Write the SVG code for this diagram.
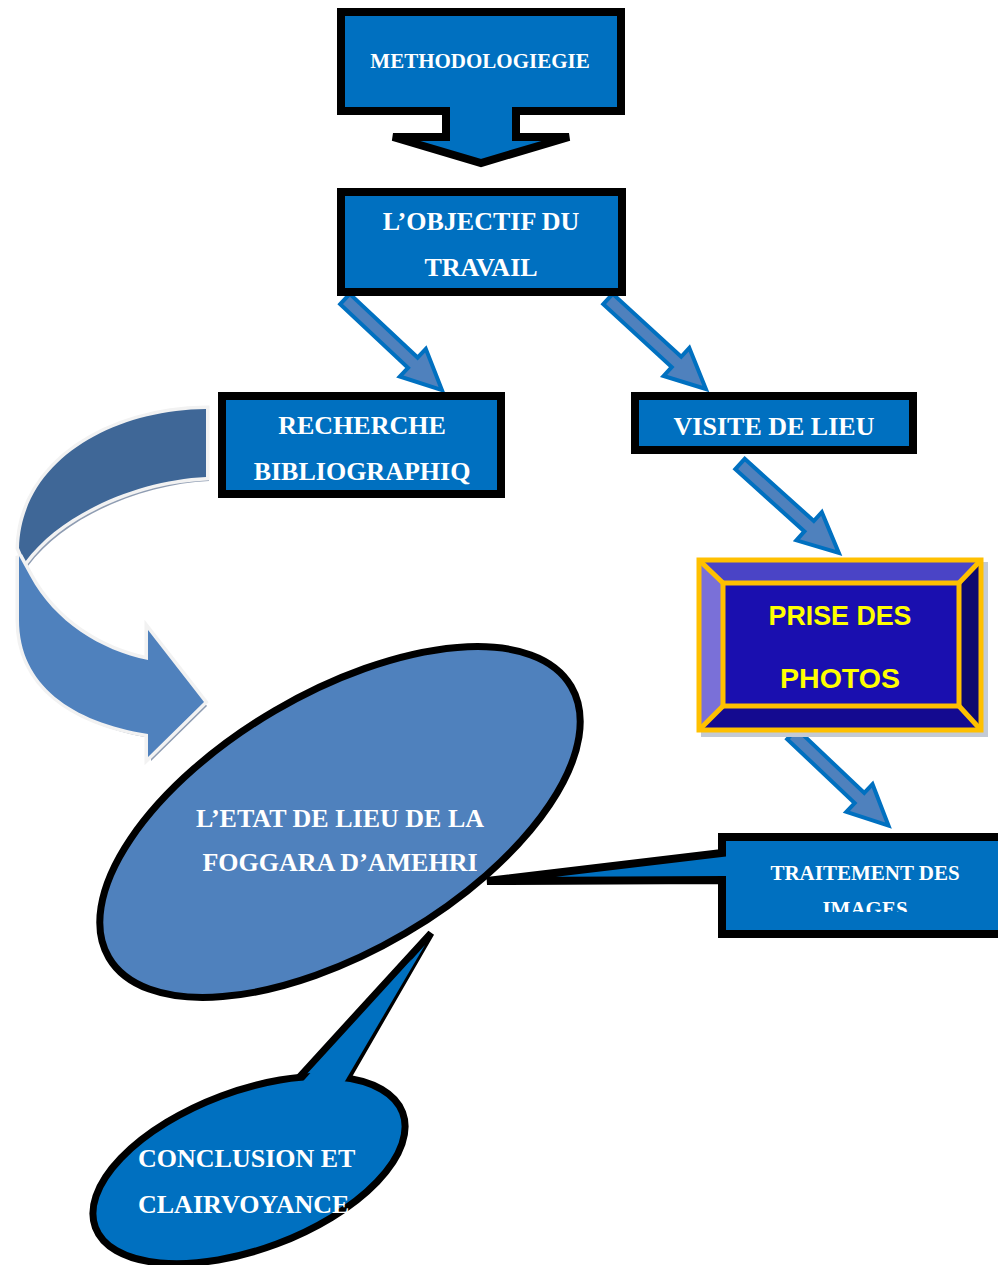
<svg xmlns="http://www.w3.org/2000/svg" width="998" height="1265" viewBox="0 0 998 1265">
<style>
.box{fill:#0070C0;stroke:#000;stroke-width:8;stroke-linejoin:miter}
.t{font-family:"Liberation Serif","Times New Roman",serif;font-weight:bold;fill:#fff;font-size:26px;text-anchor:middle}
.t21{font-size:21px}
.ts{text-anchor:start}
.barrow{fill:#4F81BD;stroke:#0070C0;stroke-width:4;stroke-linejoin:miter}
.band{stroke:#F2F2F2;stroke-width:7;stroke-linejoin:miter;paint-order:stroke}
.gold{fill:none;stroke:#FFC000;stroke-width:5}
</style>
<defs>
<path id="ba" d="M0,-7 H93 V-19 L133,0 L93,19 V7 H0 Z"/>
<clipPath id="clipImg"><rect x="722" y="840" width="276" height="72"/></clipPath>
<clipPath id="clipConc"><rect x="0" y="1100" width="356" height="165"/></clipPath>
</defs>
<rect width="998" height="1265" fill="#fff"/>

<g id="connectors">
  <g id="curved-arrow">
    <g transform="translate(3,4)" fill="#8E9CB2">
      <path d="M206,409 C110,410 21,462 19,548 L25,562 C62,512 140,480 206,477 Z"/>
      <path d="M19,556 L30,576 C55,622 100,650 148,660 L148,630 L204,702 L148,757 L148,734 C72,722 19,685 19,620 Z"/>
    </g>
    <path class="band" fill="#3F6797" d="M206,409 C110,410 21,462 19,548 L25,562 C62,512 140,480 206,477 Z"/>
    <path class="band" fill="#4F81BD" d="M19,556 L30,576 C55,622 100,650 148,660 L148,630 L204,702 L148,757 L148,734 C72,722 19,685 19,620 Z"/>
  </g>
  <use href="#ba" class="barrow" transform="translate(345,299) rotate(43.2)"/>
  <use href="#ba" class="barrow" transform="translate(608,299) rotate(42.6)"/>
  <use href="#ba" class="barrow" transform="translate(740,464) rotate(42)"/>
  <use href="#ba" class="barrow" transform="translate(792,734) rotate(43.5)"/>
</g>

<g id="methodologie">
  <path class="box" d="M341,12 H621 V111 H516 V137 H569 L481,163 L393,137 H446 V111 H341 Z"/>
  <text class="t t21" x="480" y="68">METHODOLOGIEGIE</text>
</g>

<g id="objectif">
  <rect class="box" x="341" y="192" width="281" height="100"/>
  <text class="t" x="481" y="230">L’OBJECTIF DU</text>
  <text class="t" x="481" y="276">TRAVAIL</text>
</g>

<g id="recherche">
  <rect class="box" x="222" y="396" width="279" height="98"/>
  <text class="t" x="362" y="434">RECHERCHE</text>
  <text class="t" x="362" y="480">BIBLIOGRAPHIQ</text>
</g>

<g id="visite">
  <rect class="box" x="635" y="396" width="278" height="54"/>
  <text class="t" x="774" y="435">VISITE DE LIEU</text>
</g>

<g id="photos">
  <rect x="701" y="562" width="287" height="175" fill="#C3CAD5"/>
  <rect x="697" y="558" width="286" height="174" fill="#1A0FAF"/>
  <polygon points="697,558 983,558 959,583 723,583" fill="#4A44C6"/>
  <polygon points="697,558 723,583 723,706 697,732" fill="#7A70D8"/>
  <polygon points="983,558 983,732 959,706 959,583" fill="#0F096E"/>
  <polygon points="697,732 723,706 959,706 983,732" fill="#140A90"/>
  <rect class="gold" x="699" y="560" width="282" height="170"/>
  <rect class="gold" x="723" y="583" width="236" height="123"/>
  <path class="gold" d="M699,560 L723,583 M981,560 L959,583 M699,730 L723,706 M981,730 L959,706"/>
  <text x="840" y="625" font-family="'Liberation Sans',Arial,sans-serif" font-weight="bold" font-size="28" fill="#FFFF00" text-anchor="middle" textLength="143" lengthAdjust="spacingAndGlyphs">PRISE DES</text>
  <text x="840" y="688" font-family="'Liberation Sans',Arial,sans-serif" font-weight="bold" font-size="28" fill="#FFFF00" text-anchor="middle" textLength="120" lengthAdjust="spacingAndGlyphs">PHOTOS</text>
</g>

<g id="etat">
  <ellipse cx="340" cy="822" rx="268" ry="129" transform="rotate(-30.4 340 822)" fill="#4F81BD" stroke="#000" stroke-width="7"/>
  <text class="t" x="340" y="827">L’ETAT DE LIEU DE LA</text>
  <text class="t" x="340" y="871">FOGGARA D’AMEHRI</text>
</g>

<g id="traitement">
  <path class="box" d="M722,837 H1010 V934 H722 V880 L487,881 L722,853 Z"/>
  <text class="t t21" x="865" y="880">TRAITEMENT DES</text>
  <text class="t t21" x="865" y="916" clip-path="url(#clipImg)">IMAGES</text>
</g>

<g id="conclusion">
  <path d="M293,1084 L431,933 L345,1082 Z" fill="#0070C0" stroke="#000" stroke-width="7" stroke-linejoin="miter"/>
  <ellipse cx="249" cy="1170" rx="164" ry="79" transform="rotate(-20.5 249 1170)" fill="#0070C0" stroke="#000" stroke-width="7"/>
  <path d="M297,1088 L425,945 L341,1088 Z" fill="#0070C0"/>
  <g clip-path="url(#clipConc)">
    <text class="t ts" x="138" y="1167">CONCLUSION ET</text>
    <text class="t ts" x="138" y="1213">CLAIRVOYANCE</text>
  </g>
</g>
</svg>
